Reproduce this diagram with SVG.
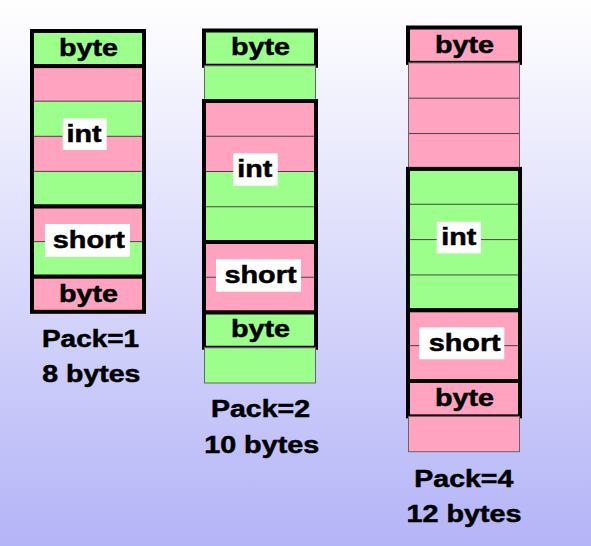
<svg xmlns="http://www.w3.org/2000/svg" width="591" height="546" viewBox="0 0 591 546">
<defs>
<linearGradient id="bg" x1="0" y1="0" x2="0" y2="1">
<stop offset="0" stop-color="#FFFFFF"/>
<stop offset="1" stop-color="#B4B4F8"/>
</linearGradient>
</defs>
<style>
.g{fill:#9CFF8C}
.p{fill:#FFA3C0}
.sep{stroke:#444;stroke-width:1}
.pad{fill:none;stroke:#666;stroke-width:1}
.box{fill:none;stroke:#000;stroke-width:4}
.lbl{fill:#FFFFFF}
text{font-family:"Liberation Sans",Arial,Helvetica,sans-serif;font-weight:bold;font-size:23px;fill:#000;stroke:#000;stroke-width:0.5;text-anchor:middle}
</style>
<rect x="0" y="0" width="591" height="546" fill="url(#bg)"/>

<g id="pack1">
  <g id="p1-byte1">
    <rect class="g" x="32" y="31" width="112" height="35.1"/>
    <rect class="box" x="32" y="31" width="112" height="35.1"/>
    <text x="88.5" y="56" textLength="59" lengthAdjust="spacingAndGlyphs">byte</text>
  </g>
  <g id="p1-int">
    <rect class="p" x="32" y="66.1" width="112" height="35.1"/>
    <rect class="g" x="32" y="101.2" width="112" height="35.1"/>
    <rect class="p" x="32" y="136.3" width="112" height="35.1"/>
    <rect class="g" x="32" y="171.4" width="112" height="35.1"/>
    <line class="sep" x1="32" y1="101.2" x2="144" y2="101.2"/>
    <line class="sep" x1="32" y1="136.3" x2="144" y2="136.3"/>
    <line class="sep" x1="32" y1="171.4" x2="144" y2="171.4"/>
    <rect class="box" x="32" y="66.1" width="112" height="140.4"/>
    <rect class="lbl" x="62.7" y="118.3" width="44" height="31.7"/>
    <text x="84" y="142.3" textLength="35" lengthAdjust="spacingAndGlyphs">int</text>
  </g>
  <g id="p1-short">
    <rect class="p" x="32" y="206.5" width="112" height="35.1"/>
    <rect class="g" x="32" y="241.6" width="112" height="35.1"/>
    <line class="sep" x1="32" y1="241.6" x2="144" y2="241.6"/>
    <rect class="box" x="32" y="206.5" width="112" height="70.2"/>
    <rect class="lbl" x="45" y="224" width="85" height="33"/>
    <text x="88.8" y="248" textLength="72" lengthAdjust="spacingAndGlyphs">short</text>
  </g>
  <g id="p1-byte2">
    <rect class="p" x="32" y="276.7" width="112" height="35.1"/>
    <rect class="box" x="32" y="276.7" width="112" height="35.1"/>
    <text x="88.5" y="301.7" textLength="59" lengthAdjust="spacingAndGlyphs">byte</text>
  </g>
  <g id="p1-caption">
    <text x="90.5" y="346.7" textLength="97" lengthAdjust="spacingAndGlyphs">Pack=1</text>
    <text x="91.3" y="381.7" textLength="98" lengthAdjust="spacingAndGlyphs">8 bytes</text>
  </g>
</g>

<g id="pack2">
  <g id="p2-byte1">
    <rect class="g" x="204" y="30.5" width="112" height="35.25"/>
    <rect class="box" x="204" y="30.5" width="112" height="35.25"/>
    <text x="260.5" y="55.3" textLength="59" lengthAdjust="spacingAndGlyphs">byte</text>
  </g>
  <g id="p2-pad1">
    <rect class="g" x="204" y="65.75" width="112" height="35.25"/>
    <rect class="pad" x="204.5" y="65.75" width="111" height="35.25"/>
  </g>
  <g id="p2-int">
    <rect class="p" x="204" y="101" width="112" height="35.25"/>
    <rect class="p" x="204" y="136.25" width="112" height="35.25"/>
    <rect class="g" x="204" y="171.5" width="112" height="35.25"/>
    <rect class="g" x="204" y="206.75" width="112" height="35.25"/>
    <line class="sep" x1="204" y1="136.25" x2="316" y2="136.25"/>
    <line class="sep" x1="204" y1="171.5" x2="316" y2="171.5"/>
    <line class="sep" x1="204" y1="206.75" x2="316" y2="206.75"/>
    <rect class="box" x="204" y="101" width="112" height="141"/>
    <rect class="lbl" x="233.3" y="153.3" width="44.4" height="32.4"/>
    <text x="254.7" y="176.7" textLength="35" lengthAdjust="spacingAndGlyphs">int</text>
  </g>
  <g id="p2-short">
    <rect class="p" x="204" y="242" width="112" height="35.25"/>
    <rect class="p" x="204" y="277.25" width="112" height="35.25"/>
    <line class="sep" x1="204" y1="277.25" x2="316" y2="277.25"/>
    <rect class="box" x="204" y="242" width="112" height="70.5"/>
    <rect class="lbl" x="216" y="259.3" width="85" height="32.4"/>
    <text x="260.5" y="282.5" textLength="72" lengthAdjust="spacingAndGlyphs">short</text>
  </g>
  <g id="p2-byte2">
    <rect class="g" x="204" y="312.5" width="112" height="35.25"/>
    <rect class="box" x="204" y="312.5" width="112" height="35.25"/>
    <text x="260.5" y="337.3" textLength="59" lengthAdjust="spacingAndGlyphs">byte</text>
  </g>
  <g id="p2-pad2">
    <rect class="g" x="204" y="347.75" width="112" height="35.25"/>
    <rect class="pad" x="204.5" y="347.75" width="111" height="35.25"/>
  </g>
  <g id="p2-caption">
    <text x="260.5" y="417.3" textLength="99" lengthAdjust="spacingAndGlyphs">Pack=2</text>
    <text x="261.7" y="453.3" textLength="115" lengthAdjust="spacingAndGlyphs">10 bytes</text>
  </g>
</g>

<g id="pack4">
  <g id="p4-byte1">
    <rect class="p" x="408" y="27.5" width="112" height="35.35"/>
    <rect class="box" x="408" y="27.5" width="112" height="35.35"/>
    <text x="464.5" y="52.5" textLength="59" lengthAdjust="spacingAndGlyphs">byte</text>
  </g>
  <g id="p4-pad1">
    <rect class="p" x="408" y="62.85" width="112" height="106.05"/>
    <line class="sep" x1="408" y1="98.2" x2="520" y2="98.2"/>
    <line class="sep" x1="408" y1="133.55" x2="520" y2="133.55"/>
    <rect class="pad" x="408.5" y="62.85" width="111" height="106.05"/>
  </g>
  <g id="p4-int">
    <rect class="g" x="408" y="168.9" width="112" height="141.4"/>
    <line class="sep" x1="408" y1="204.25" x2="520" y2="204.25"/>
    <line class="sep" x1="408" y1="239.6" x2="520" y2="239.6"/>
    <line class="sep" x1="408" y1="274.95" x2="520" y2="274.95"/>
    <rect class="box" x="408" y="168.9" width="112" height="141.4"/>
    <rect class="lbl" x="436.7" y="221.7" width="44.3" height="31.6"/>
    <text x="458.7" y="245" textLength="35" lengthAdjust="spacingAndGlyphs">int</text>
  </g>
  <g id="p4-short">
    <rect class="p" x="408" y="310.3" width="112" height="70.7"/>
    <line class="sep" x1="408" y1="345.65" x2="520" y2="345.65"/>
    <rect class="box" x="408" y="310.3" width="112" height="70.7"/>
    <rect class="lbl" x="419.3" y="327.3" width="85" height="32"/>
    <text x="464.7" y="350.5" textLength="72" lengthAdjust="spacingAndGlyphs">short</text>
  </g>
  <g id="p4-byte2">
    <rect class="p" x="408" y="381" width="112" height="35.35"/>
    <rect class="box" x="408" y="381" width="112" height="35.35"/>
    <text x="464.5" y="405.5" textLength="59" lengthAdjust="spacingAndGlyphs">byte</text>
  </g>
  <g id="p4-pad2">
    <rect class="p" x="408" y="416.35" width="112" height="35.35"/>
    <rect class="pad" x="408.5" y="416.35" width="111" height="35.35"/>
  </g>
  <g id="p4-caption">
    <text x="463.8" y="486.7" textLength="99" lengthAdjust="spacingAndGlyphs">Pack=4</text>
    <text x="464" y="521.7" textLength="115" lengthAdjust="spacingAndGlyphs">12 bytes</text>
  </g>
</g>

<g id="connectors"></g>
</svg>
